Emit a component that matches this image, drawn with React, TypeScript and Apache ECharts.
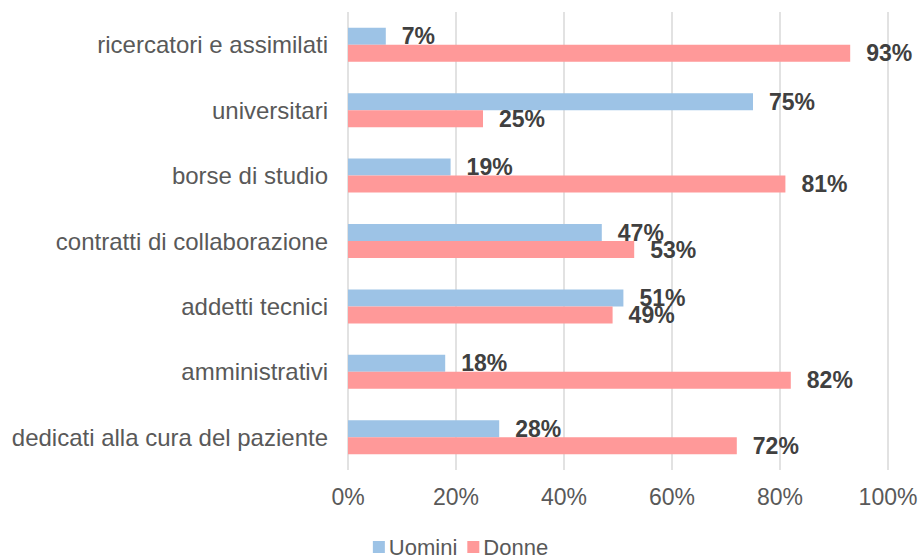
import React, { useEffect, useRef } from "react";
import * as echarts from "echarts";

const categories = [
  "ricercatori e assimilati",
  "universitari",
  "borse di studio",
  "contratti di collaborazione",
  "addetti tecnici",
  "amministrativi",
  "dedicati alla cura del paziente",
];
const uomini = [7, 75, 19, 47, 51, 18, 28];
const donne = [93, 25, 81, 53, 49, 82, 72];
const seriesNames = ["Uomini", "Donne"];

export default function App() {
  const ref = useRef<HTMLDivElement>(null);
  useEffect(() => {
    if (!ref.current) return;
    const chart = echarts.init(ref.current, null, { renderer: "svg" });
    const font = "'Liberation Sans', Arial, sans-serif";
    const labelCfg = {
      show: true,
      position: "right",
      distance: 16,
      formatter: "{c}%",
      color: "#404040",
      fontWeight: "bold",
      fontSize: 23,
      fontFamily: font,
    };
    chart.setOption({
      animation: false,
      textStyle: { fontFamily: font },
      grid: { left: 348, right: 33, top: 12, bottom: 90 },
      legend: {
        data: seriesNames,
        top: 536,
        left: "center",
        padding: 0,
        itemWidth: 12,
        itemHeight: 12,
        itemGap: 10,
        icon: "rect",
        textStyle: { fontSize: 22, lineHeight: 22, color: "#595959", fontFamily: font, padding: [0, 0, 0, -1] },
      },
      xAxis: {
        type: "value",
        min: 0,
        max: 100,
        interval: 20,
        axisLabel: { formatter: "{value}%", fontSize: 23, color: "#595959", margin: 15, fontFamily: font },
        splitLine: { lineStyle: { color: "#d9d9d9", width: 1.5 } },
        axisLine: { show: false },
        axisTick: { show: false },
      },
      yAxis: {
        type: "category",
        data: categories,
        inverse: true,
        axisLine: { show: false },
        axisTick: { show: false },
        axisLabel: { fontSize: 24, color: "#595959", margin: 20, fontFamily: font },
      },
      series: [
        {
          name: seriesNames[0],
          type: "bar",
          data: uomini,
          barWidth: 17,
          barGap: "0%",
          itemStyle: { color: "#9DC3E6" },
          label: labelCfg,
        },
        {
          name: seriesNames[1],
          type: "bar",
          data: donne,
          barWidth: 17,
          barGap: "0%",
          itemStyle: { color: "#FF9999" },
          label: labelCfg,
        },
      ],
    });
    return () => chart.dispose();
  }, []);
  return <div ref={ref} style={{ width: 921, height: 560, position: "absolute", left: 0, top: 0 }} />;
}
